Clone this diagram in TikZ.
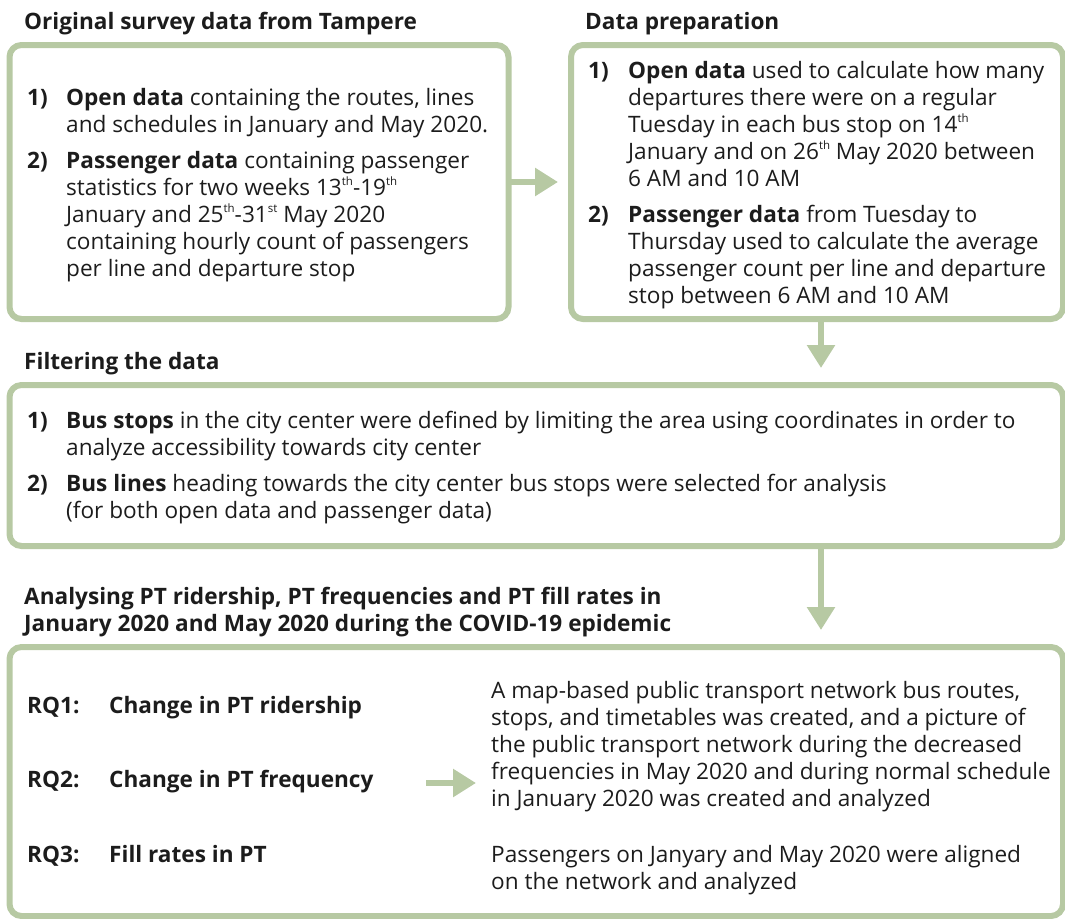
\documentclass[tikz,border=0pt]{standalone}
\usepackage{fontspec}
\setmainfont{Open Sans}
\usetikzlibrary{arrows.meta}
\definecolor{sage}{RGB}{183,201,163}
\definecolor{ink}{RGB}{28,28,28}
\newcommand{\ml}[1]{\begin{tabular}[t]{@{}l@{}}#1\end{tabular}}
\newcommand{\sps}[1]{\smash{\raisebox{0.42em}{\fontsize{11.5}{12}\selectfont #1}}}
\begin{document}
\begin{tikzpicture}[x=1pt,y=-1pt,
  font=\fontsize{22.6}{27}\selectfont,
  every node/.style={text=ink},
  box/.style={draw=sage, line width=6pt, rounded corners=12pt, inner sep=0pt, outer sep=0pt, anchor=north west},
  txt/.style={inner sep=0pt, anchor=base west},
  ttl/.style={inner sep=0pt, anchor=base west, font=\fontsize{22.6}{27}\selectfont\bfseries},
  num/.style={inner sep=0pt, anchor=base west, font=\fontsize{22.6}{27}\selectfont\bfseries},
  arr/.style={draw=sage, line width=6pt, -{Triangle[width=27pt,length=23pt]}}
]
\useasboundingbox (0,0) rectangle (1065,918);
\begin{scope}
\clip (0,0) rectangle (1065,918);
% boxes
\node[box, minimum width=499pt, minimum height=274pt] (b1) at (9.5,45) {};
\node[box, minimum width=492pt, minimum height=274pt] (b2) at (571,45) {};
\node[box, minimum width=1053.5pt, minimum height=161pt] (b3) at (9.5,385) {};
\node[box, minimum width=1053.5pt, minimum height=269pt] (b4) at (9.5,647) {};
\end{scope}

% titles
\node[ttl] (t1) at (24,29) {Original survey data from Tampere};
\node[ttl] (t2) at (585,29) {Data preparation};
\node[ttl] (t3) at (24,369) {Filtering the data};
\node[ttl] (t4) at (24,604) {\ml{Analysing PT ridership, PT frequencies and PT fill rates in\\January 2020 and May 2020 during the COVID-19 epidemic}};

% box 1
\node[num] (n11) at (27,105) {1)};
\node[txt] (x11) at (66,105) {\ml{\textbf{Open data} containing the routes, lines\\and schedules in January and May 2020.}};
\node[num] (n12) at (27,168) {2)};
\node[txt] (x12) at (66,168) {\ml{\textbf{Passenger data} containing passenger\\statistics for two weeks 13\sps{th}-19\sps{th}\\January and 25\sps{th}-31\sps{st} May 2020\\containing hourly count of passengers\\per line and departure stop}};

% box 2
\node[num] (n21) at (588,78) {1)};
\node[txt] (x21) at (628,78) {\ml{\textbf{Open data} used to calculate how many\\departures there were on a regular\\Tuesday in each bus stop on 14\sps{th}\\January and on 26\sps{th} May 2020 between\\6 AM and 10 AM}};
\node[num] (n22) at (588,222) {2)};
\node[txt] (x22) at (628,222) {\ml{\textbf{Passenger data} from Tuesday to\\Thursday used to calculate the average\\passenger count per line and departure\\stop between 6 AM and 10 AM}};

% box 3
\node[num] (n31) at (27,428) {1)};
\node[txt] (x31) at (66,428) {\ml{\textbf{Bus stops} in the city center were defined by limiting the area using coordinates in order to\\analyze accessibility towards city center}};
\node[num] (n32) at (27,491) {2)};
\node[txt] (x32) at (66,491) {\ml{\textbf{Bus lines} heading towards the city center bus stops were selected for analysis\\(for both open data and passenger data)}};

% box 4
\node[num] (r1) at (27,713) {RQ1:};
\node[num] (l1) at (109,713) {Change in PT ridership};
\node[num] (r2) at (27,787) {RQ2:};
\node[num] (l2) at (109,787) {Change in PT frequency};
\node[num] (r3) at (27,862) {RQ3:};
\node[num] (l3) at (109,862) {Fill rates in PT};
\node[txt] (d1) at (491,698) {\ml{A map-based public transport network bus routes,\\stops, and timetables was created, and a picture of\\the public transport network during the decreased\\frequencies in May 2020 and during normal schedule\\in January 2020 was created and analyzed}};
\node[txt] (d2) at (491,862) {\ml{Passengers on Janyary and May 2020 were aligned\\on the network and analyzed}};

% connectors
\coordinate (a2s) at (821,318);
\coordinate (a2e) at (821,368);
\coordinate (a3s) at (821,546);
\coordinate (a3e) at (821,630);
\coordinate (a4s) at (426,783);
\coordinate (a4e) at (476,783);
\draw[arr] (b1.east |- 0,182) -- (558,182);
\draw[arr] (a2s) -- (a2e);
\draw[arr] (a3s) -- (a3e);
\draw[arr] (a4s) -- (a4e);
\end{tikzpicture}
\end{document}
